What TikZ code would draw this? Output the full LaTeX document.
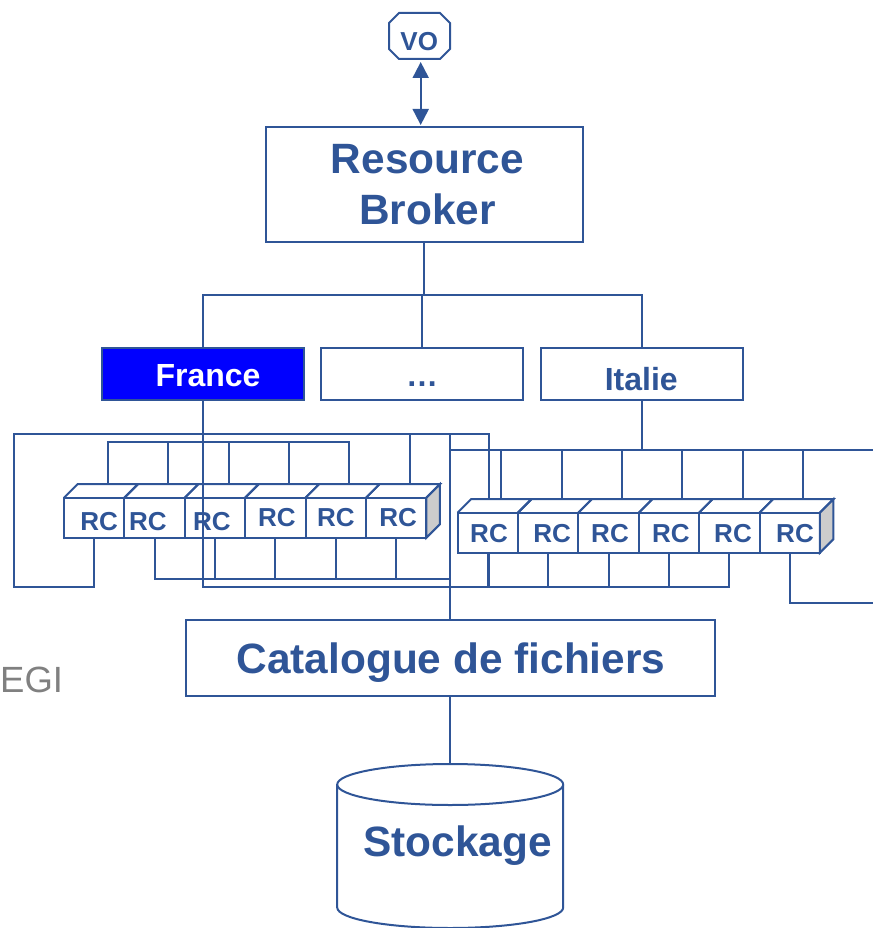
\documentclass[tikz,border=0pt]{standalone}
\usepackage{fontspec}
\setmainfont{Liberation Sans}
\usetikzlibrary{arrows.meta}
\definecolor{gridblue}{HTML}{2F5597}
\tikzset{
  cable/.style = {draw=gridblue, line width=2pt},
  wbox/.style = {draw=gridblue, line width=2pt, rectangle, inner sep=0pt, outer sep=0pt},
  rcbox/.style = {wbox, minimum width=60.4pt, minimum height=40pt},
  boldtext/.style = {text=gridblue, inner sep=0pt, text depth=0pt},
  rctext/.style = {boldtext, text height=18.6pt, font=\fontsize{26}{31}\selectfont\bfseries},
  midtext/.style = {boldtext, text height=23pt, font=\fontsize{32}{38}\selectfont\bfseries},
  bigtext/.style = {boldtext, text height=30.4pt, font=\fontsize{42.4}{51}\selectfont\bfseries},
}
\newcommand{\rctop}[1]{\draw[cable] (#1.north west) -- ++(13.5,-13.5) -- ++(60.4,0) -- (#1.north east);
  \path (#1.north) ++(13.5,-13.5) coordinate (#1t);}
\newcommand{\rcend}[1]{\draw[cable, fill=black!20] (#1.north east) -- ++(13.5,-13.5) -- ++(0,40) -- (#1.south east) -- cycle;}
\begin{document}
\begin{tikzpicture}[x=1pt, y=-1pt]
\useasboundingbox (0,0) rectangle (873,928);
% top of the tree
\node[inner sep=0pt, outer sep=0pt, minimum width=61pt, minimum height=46pt,
  label={[rctext, xshift=-0.3pt, yshift=-5pt]center:VO}] (vo) at (419.5,36) {};
\draw[cable] ([xshift=10pt]vo.north west) -- ([xshift=-10pt]vo.north east) -- ([yshift=-10pt]vo.north east)
  -- ([yshift=10pt]vo.south east) -- ([xshift=-10pt]vo.south east) -- ([xshift=10pt]vo.south west)
  -- ([yshift=10pt]vo.south west) -- ([yshift=-10pt]vo.north west) -- cycle;
\node[wbox, minimum width=317pt, minimum height=115pt,
  label={[bigtext, xshift=3.3pt, yshift=26pt]center:Resource},
  label={[bigtext, xshift=3.3pt, yshift=-25pt]center:Broker}] (rb) at (424.2,184.5) {};
\node[wbox, minimum width=202pt, minimum height=52pt, fill=blue,
  label={[midtext, text=white, xshift=5pt, yshift=-1pt]center:France}] (france) at (203,374) {};
\node[wbox, minimum width=202pt, minimum height=52pt,
  label={[midtext, yshift=-1pt]center:…}] (dots) at (422,374) {};
\node[wbox, minimum width=202pt, minimum height=52pt,
  label={[midtext, xshift=-0.5pt, yshift=-5pt]center:Italie}] (italie) at (641.8,374) {};
% left row
\node[rcbox, label={[rctext, xshift=5pt, yshift=-3.3pt]center:RC}] (l1) at (94.2,517.7) {};
\node[rcbox, label={[rctext, xshift=-6.6pt, yshift=-3.3pt]center:RC}] (l2) at (154.6,517.7) {};
\node[rcbox, label={[rctext, xshift=-3pt, yshift=-3.3pt]center:RC}] (l3) at (215,517.7) {};
\node[rcbox, label={[rctext, xshift=1.6pt, yshift=1pt]center:RC}] (l4) at (275.4,517.7) {};
\node[rcbox, label={[rctext, yshift=1pt]center:RC}] (l5) at (335.8,517.7) {};
\node[rcbox, label={[rctext, xshift=2pt, yshift=1pt]center:RC}] (l6) at (396.2,517.7) {};
\rctop{l1} \rctop{l2} \rctop{l3} \rctop{l4} \rctop{l5} \rctop{l6}
\rcend{l6}
% right row
\node[rcbox, label={[rctext, xshift=1.3pt]center:RC}] (r1) at (487.7,532.7) {};
\node[rcbox, label={[rctext, xshift=4pt]center:RC}] (r2) at (548.1,532.7) {};
\node[rcbox, label={[rctext, xshift=1.5pt]center:RC}] (r3) at (608.5,532.7) {};
\node[rcbox, label={[rctext, xshift=2pt]center:RC}] (r4) at (668.9,532.7) {};
\node[rcbox, label={[rctext, xshift=3.7pt]center:RC}] (r5) at (729.3,532.7) {};
\node[rcbox, label={[rctext, xshift=5.3pt]center:RC}] (r6) at (789.7,532.7) {};
\rctop{r1} \rctop{r2} \rctop{r3} \rctop{r4} \rctop{r5} \rctop{r6}
\rcend{r6}
% bottom of the tree
\node[wbox, minimum width=529pt, minimum height=76pt,
  label={[bigtext, xshift=0.8pt]center:Catalogue de fichiers}] (cat) at (450.2,658) {};
\node[inner sep=0pt, outer sep=0pt, minimum width=226pt, minimum height=165pt,
  label={[bigtext, xshift=7.4pt, yshift=5pt]center:Stockage}] (disk) at (450.2,846.5) {};
\draw[cable] (disk.north) ++(0,20.5) ellipse [x radius=113pt, y radius=20.5pt];
\draw[cable] (disk.north west) ++(0,20.5) -- ++(0,123) arc [start angle=180, end angle=360, x radius=113pt, y radius=20.5pt] -- ++(0,-123);
\node[anchor=west, inner sep=0pt, text=black!50, font=\fontsize{36.5}{44}\selectfont] (egi) at (0,680) {EGI};
% named corners
\coordinate (topbusl) at (228,441.5);
\coordinate (topbusr) at (873,449.5);
\coordinate (lowbusl) at (450,579);
\coordinate (lowbusr) at (729.3,587);
\coordinate (looptop) at (489.3,434);
\coordinate (loopend) at (489.3,499);
\coordinate (loopa) at (14,587);
\coordinate (rcout) at (873,603);
\coordinate (nationbus) at (422,295);
% connectors
\draw[cable, {Triangle[length=16pt, width=16pt]}-{Triangle[length=16pt, width=16pt]}, shorten <=3pt, shorten >=2pt] ([xshift=1.2pt]vo.south) -- ([xshift=1.2pt]vo.south |- rb.north);
\draw[cable] (rb.south) -- (rb.south |- nationbus);
\draw[cable] (france.north) |- (nationbus) -| (italie.north);
\draw[cable] (dots.north) -- (nationbus);
\draw[cable] (l1t) |- (topbusl) -| (l5t);
\draw[cable] (l2t) -- (l2t |- topbusl);
\draw[cable] (l3t) -- (l3t |- topbusl);
\draw[cable] (l4t) -- (l4t |- topbusl);
\draw[cable] (l1.south) |- (loopa) |- (looptop) -- (loopend);
\draw[cable] (l2.south) |- (lowbusl);
\draw[cable] (l3.south) -- (l3.south |- lowbusl);
\draw[cable] (l4.south) -- (l4.south |- lowbusl);
\draw[cable] (l5.south) -- (l5.south |- lowbusl);
\draw[cable] (l6.south) -- (l6.south |- lowbusl);
\draw[cable] (l6t) |- (cat.north |- looptop) -- (cat.north);
\draw[cable] (france.south) |- (lowbusr) -- (r5.south);
\draw[cable] (r1.south) -- (r1.south |- lowbusr);
\draw[cable] (r2.south) -- (r2.south |- lowbusr);
\draw[cable] (r3.south) -- (r3.south |- lowbusr);
\draw[cable] (r4.south) -- (r4.south |- lowbusr);
\draw[cable] (looptop |- r1.south) -- (looptop |- lowbusr);
\draw[cable] (italie.south) -- (italie.south |- topbusr);
\draw[cable] (cat.north |- topbusr) -- (topbusr);
\draw[cable] (r1t) -- (r1t |- topbusr);
\draw[cable] (r2t) -- (r2t |- topbusr);
\draw[cable] (r3t) -- (r3t |- topbusr);
\draw[cable] (r4t) -- (r4t |- topbusr);
\draw[cable] (r5t) -- (r5t |- topbusr);
\draw[cable] (r6t) -- (r6t |- topbusr);
\draw[cable] (r6.south) |- (rcout);
\draw[cable] (cat.south) -- (disk.north);
\end{tikzpicture}
\end{document}
